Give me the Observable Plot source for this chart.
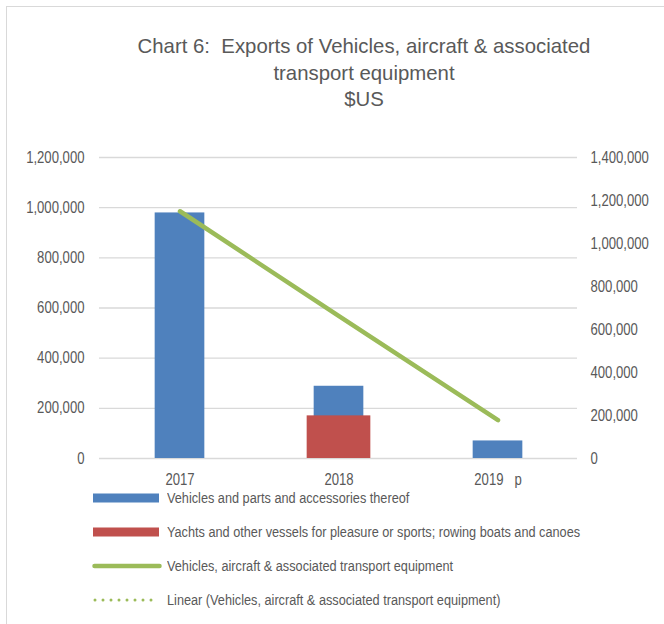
<!DOCTYPE html>
<html>
<head>
<meta charset="utf-8">
<script src="https://cdn.jsdelivr.net/npm/d3@7"></script>
<script src="https://cdn.jsdelivr.net/npm/@observablehq/plot@0.6"></script>
<style>
  html, body { margin: 0; padding: 0; background: #fff; }
  body { font-family: "Liberation Sans", Arial, sans-serif; color: #595959; }
  #wrap { position: relative; width: 664px; height: 624px; overflow: hidden; }
  #frame { position: absolute; left: 6px; top: 6px; width: 700px; height: 700px; border-left: 1.5px solid #d9d9d9; border-top: 1.5px solid #d9d9d9; }
  #title { position: absolute; left: 64px; width: 600px; top: 33px; text-align: center; font-size: 21px; line-height: 26.5px; color: #595959; }
  #title div { transform: scaleX(0.97); transform-origin: 300px 50%; white-space: nowrap; }
  #chart { position: absolute; left: 0; top: 0; }
  #legend { position: absolute; left: 0; top: 0; }
  .item { position: absolute; left: 92px; height: 20px; display: flex; align-items: center; font-size: 15.5px; white-space: nowrap; }
  .item svg { margin-right: 5px; flex: none; }
  .item span { display: inline-block; transform: scaleX(0.82); transform-origin: 0 50%; }
</style>
</head>
<body>
<div id="wrap">
  <div id="frame"></div>
  <div id="title"><div>Chart 6:&nbsp; Exports of Vehicles, aircraft &amp; associated</div><div>transport equipment</div><div>$US</div></div>
  <div id="chart"></div>
  <div id="legend"></div>
</div>
<script>
// ---- data ----
const years = ["2017", "2018", "2019 p"];
const vehiclesParts = [979000, 288000, 70000];          // primary axis
const yachts = [0, 170000, 0];                           // primary axis
const totalLine = [1150000, 662000, 178000];             // secondary axis
const leftTicks = [0, 200000, 400000, 600000, 800000, 1000000, 1200000];
const rightTicks = [0, 200000, 400000, 600000, 800000, 1000000, 1200000, 1400000];
const seriesNames = [
  "Vehicles and parts and accessories thereof",
  "Yachts and other vessels for pleasure or sports; rowing boats and canoes",
  "Vehicles, aircraft & associated transport equipment",
  "Linear (Vehicles, aircraft & associated transport equipment)"
];
const colors = ["#4F81BD", "#C0504D", "#9BBB59", "#9BBB59"];

const Y1MAX = 1200000, Y2MAX = 1400000;
const toPrimary = v => v * Y1MAX / Y2MAX;

const barsBlue = years.map((y, i) => ({year: y, value: vehiclesParts[i]}));
const barsRed = years.map((y, i) => ({year: y, value: yachts[i]})).filter(d => d.value > 0);
const lineData = years.map((y, i) => ({year: y, value: totalLine[i]}));

const fmt = d3.format(",");
const W = 664, H = 490;
const bandW = (W - 99 - 87) / years.length;
const NARROW = 0.82;

const chart = Plot.plot({
  width: W,
  height: H,
  marginLeft: 99,
  marginRight: 87,
  marginTop: 157,
  marginBottom: 32,
  style: {fontFamily: '"Liberation Sans", Arial, sans-serif', fontSize: "16px", color: "#595959", background: "transparent"},
  x: {type: "band", domain: years, padding: 0},
  y: {domain: [0, Y1MAX]},
  marks: [
    Plot.ruleY(leftTicks, {stroke: "#d9d9d9", strokeWidth: 1.4}),
    Plot.barY(barsBlue, {x: "year", y: "value", fill: colors[0], insetLeft: (bandW - 50) / 2, insetRight: (bandW - 50) / 2}),
    Plot.barY(barsRed, {x: "year", y: "value", fill: colors[1], insetLeft: (bandW - 64) / 2, insetRight: (bandW - 64) / 2}),
    Plot.line(lineData, {x: "year", y: d => toPrimary(d.value), stroke: colors[2], strokeWidth: 4.5, strokeLinecap: "round", strokeLinejoin: "round"}),
    Plot.axisY({ticks: leftTicks, tickSize: 0, tickPadding: 15, tickFormat: fmt, label: null}),
    Plot.axisY(rightTicks.map(toPrimary), {anchor: "right", tickSize: 0, tickPadding: 13, tickFormat: v => fmt(Math.round(v * Y2MAX / Y1MAX)), label: null, textAnchor: "start"}),
    Plot.axisX({tickSize: 0, tickPadding: 15, label: null, tickFormat: d => d.replace(" ", "   ")})
  ]
});

// condense axis labels horizontally (Arial Narrow look), scaling about each label's anchor
chart.querySelectorAll("g[aria-label$='tick label'] text").forEach(t => {
  const tr = t.getAttribute("transform") || "";
  t.setAttribute("transform", `${tr} scale(${NARROW},1)`);
});
document.getElementById("chart").appendChild(chart);

// ---- legend ----
const legend = document.getElementById("legend");
const rowsY = [498, 532, 566, 600];
seriesNames.forEach((name, i) => {
  const div = document.createElement("div");
  div.className = "item";
  div.style.top = (rowsY[i] - 10) + "px";
  let sw;
  if (i < 2) {
    sw = `<svg width="70" height="12"><rect x="1" y="1.5" width="66" height="9" fill="${colors[i]}"/></svg>`;
  } else if (i === 2) {
    sw = `<svg width="70" height="12"><line x1="2.5" y1="6" x2="67.5" y2="6" stroke="${colors[i]}" stroke-width="4.5" stroke-linecap="round"/></svg>`;
  } else {
    sw = `<svg width="70" height="12"><line x1="3" y1="6" x2="67" y2="6" stroke="${colors[i]}" stroke-width="3" stroke-linecap="round" stroke-dasharray="0 8"/></svg>`;
  }
  div.innerHTML = sw + `<span></span>`;
  div.querySelector("span").textContent = name;
  legend.appendChild(div);
});
</script>
</body>
</html>
